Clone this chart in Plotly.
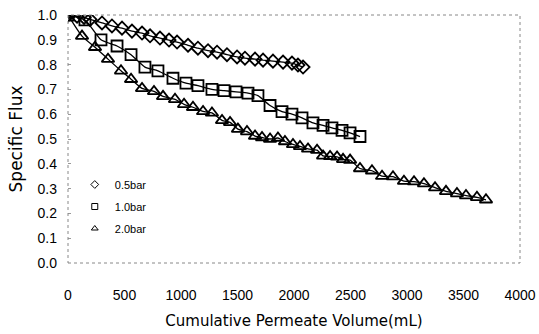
import plotly.graph_objects as go

# 0.5 bar (diamonds)
vol_05 = [0, 80, 142, 195, 301, 389, 478, 566, 655, 726, 814, 894, 965, 1062,
          1150, 1239, 1319, 1407, 1496, 1566, 1655, 1726, 1814, 1903, 1982, 2035, 2080]
flux_05 = [1.00, 0.995, 0.99, 0.982, 0.968, 0.956, 0.947, 0.935, 0.927, 0.916, 0.907, 0.899, 0.891, 0.878,
           0.866, 0.856, 0.850, 0.840, 0.831, 0.826, 0.822, 0.818, 0.814, 0.810, 0.806, 0.798, 0.790]

# 1.0 bar (squares)
vol_10 = [0, 150, 292, 434, 558, 681, 796, 929, 1044, 1150, 1274, 1381, 1487, 1593,
          1681, 1788, 1894, 1982, 2071, 2168, 2257, 2336, 2425, 2496, 2584]
flux_10 = [1.00, 0.98, 0.90, 0.875, 0.84, 0.79, 0.775, 0.745, 0.725, 0.715, 0.70, 0.695, 0.69, 0.685,
           0.675, 0.635, 0.61, 0.60, 0.585, 0.565, 0.555, 0.545, 0.535, 0.525, 0.51]

# 2.0 bar (triangles)
vol_20 = [0, 124, 239, 354, 469, 558, 655, 761, 841, 947, 1027, 1106, 1195, 1274, 1363,
          1434, 1504, 1584, 1655, 1717, 1788, 1858, 1920, 1991, 2053, 2124, 2204, 2257,
          2319, 2381, 2434, 2496, 2584, 2690, 2779, 2876, 2973, 3062, 3150, 3248, 3345,
          3442, 3522, 3619, 3699]
flux_20 = [1.00, 0.915, 0.87, 0.822, 0.775, 0.741, 0.704, 0.692, 0.672, 0.660, 0.640, 0.628, 0.611, 0.605, 0.575,
           0.567, 0.540, 0.530, 0.512, 0.506, 0.500, 0.504, 0.490, 0.478, 0.470, 0.460, 0.455, 0.432,
           0.430, 0.428, 0.418, 0.415, 0.381, 0.372, 0.350, 0.348, 0.330, 0.328, 0.320, 0.304, 0.289,
           0.280, 0.272, 0.265, 0.255]

series = [
    ("0.5bar", vol_05, flux_05, "diamond-open", 10),
    ("1.0bar", vol_10, flux_10, "square-open", 11),
    ("2.0bar", vol_20, flux_20, "triangle-up-open", 11),
]

x_ticks = [0, 500, 1000, 1500, 2000, 2500, 3000, 3500, 4000]
y_ticks = [0.0, 0.1, 0.2, 0.3, 0.4, 0.5, 0.6, 0.7, 0.8, 0.9, 1.0]

fig = go.Figure()
for name, xs, ys, sym, sz in series:
    fig.add_trace(go.Scatter(
        x=xs, y=ys, mode="lines+markers", name=name, showlegend=False,
        line=dict(color="black", width=1.3, shape="spline", smoothing=0.6),
        marker=dict(symbol=sym, size=sz, color="black", line=dict(width=1.8, color="black")),
    ))
for name, xs, ys, sym, sz in series:
    fig.add_trace(go.Scatter(
        x=[None], y=[None], mode="markers", name=name, showlegend=True, legendgroup=name,
        marker=dict(symbol=sym, size=6, color="black", line=dict(width=1, color="black")),
    ))

fig.update_layout(
    width=539, height=334,
    margin=dict(l=68, r=19, t=15, b=71),
    paper_bgcolor="white", plot_bgcolor="white",
    font=dict(family="Liberation Sans", color="black"),
    showlegend=True,
    legend=dict(x=0.015, y=0.375, xanchor="left", yanchor="top",
                font=dict(size=11, family="Liberation Sans"),
                bgcolor="rgba(0,0,0,0)", tracegroupgap=3),
    shapes=[dict(type="rect", xref="paper", yref="paper", x0=0, y0=0, x1=1, y1=1,
                 line=dict(color="#888888", width=1, dash="dot"))],
)
fig.update_xaxes(
    range=[0, 4000], tickvals=x_ticks, ticktext=[str(v) for v in x_ticks],
    showgrid=False, zeroline=False, showline=False, ticks="", automargin=False,
    tickfont=dict(size=14), ticklabelstandoff=22,
    title=dict(text="Cumulative Permeate Volume(mL)", font=dict(size=15, family="DejaVu Sans"), standoff=13),
)
fig.update_yaxes(
    range=[0, 1.0], tickvals=y_ticks, ticktext=[f"{v:.1f}" for v in y_ticks],
    showgrid=False, zeroline=False, showline=False, automargin=False,
    ticks="inside", ticklen=3, tickcolor="#999999",
    tickfont=dict(size=14), ticklabelstandoff=10,
    title=dict(text="Specific Flux", font=dict(size=17, family="DejaVu Sans"), standoff=10),
)

fig.write_html("out.html")
